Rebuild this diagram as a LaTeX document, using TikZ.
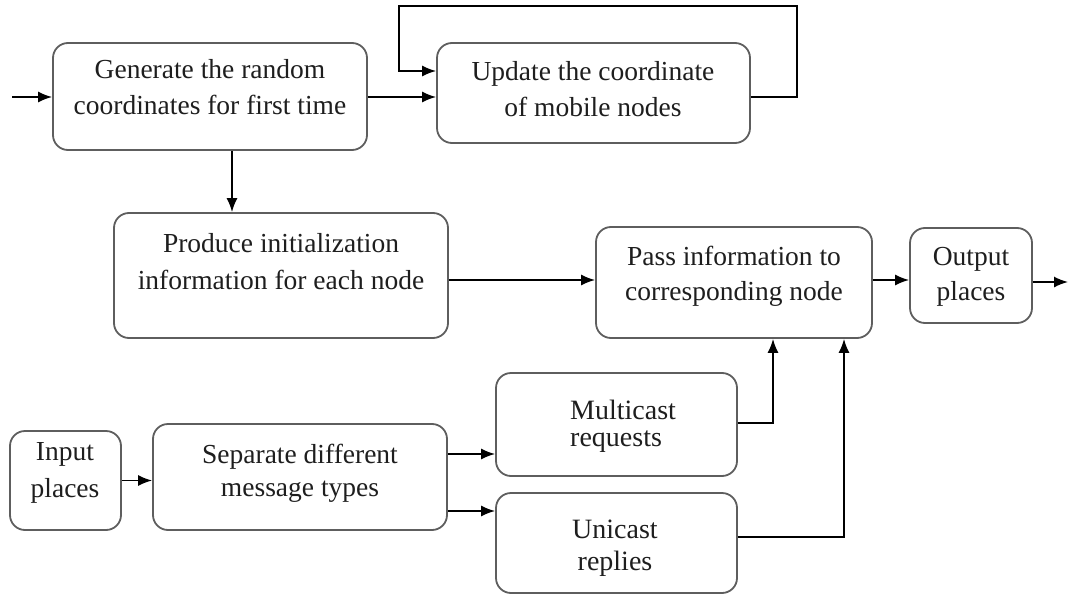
\documentclass[tikz,border=0pt]{standalone}
\usepackage{fontspec}
\setmainfont{Liberation Serif}
\usetikzlibrary{arrows.meta}
\definecolor{boxgray}{HTML}{5E5E5E}
\definecolor{ink}{HTML}{1E1E1E}
\tikzset{
  box/.style={draw=boxgray, line width=1.8pt, rounded corners=15pt, inner sep=0pt, fill=white},
  txt/.style={anchor=base, font=\fontsize{27.5}{36}\selectfont, text=ink, inner sep=0pt},
  tnr/.style={anchor=base, font=\fontsize{28}{34}\selectfont, text=ink, inner sep=0pt},
  wire/.style={draw=black, line width=1.6pt},
  flow/.style={wire, -{Latex[length=14pt,width=11pt]}}
}
\begin{document}
\begin{tikzpicture}[x=1pt, y=-1pt]
  \useasboundingbox[fill=white] (0,0) rectangle (1070,596);

  % boxes
  \node[box, minimum width=314pt, minimum height=107pt] (gen)  at (210,96.5)  {};
  \node[box, minimum width=313pt, minimum height=100pt] (upd)  at (593.5,93)  {};
  \node[box, minimum width=334pt, minimum height=125pt] (init) at (281,275.5) {};
  \node[box, minimum width=276pt, minimum height=111pt] (pass) at (734,282.5) {};
  \node[box, minimum width=122pt, minimum height=95pt]  (outp) at (971,275.5) {};
  \node[box, minimum width=111pt, minimum height=99pt]  (inp)  at (65.5,480.5) {};
  \node[box, minimum width=294pt, minimum height=106pt] (sep)  at (300,477)   {};
  \node[box, minimum width=241pt, minimum height=103pt] (mc)   at (616.5,424.5) {};
  \node[box, minimum width=241pt, minimum height=100pt] (uc)   at (616.5,543) {};

  % box texts
  \node[txt] (gen1)  at (210,79)  {Generate the random};
  \node[txt] (gen2)  at (210,115) {coordinates for first time};
  \node[txt] (upd1)  at (593,81)  {Update the coordinate};
  \node[txt] (upd2)  at (593,117) {of mobile nodes};
  \node[txt] (init1) at (281,252) {Produce initialization};
  \node[txt] (init2) at (281,289) {information for each node};
  \node[txt] (pass1) at (734,265) {Pass information to};
  \node[txt] (pass2) at (734,300) {corresponding node};
  \node[txt] (outp1) at (971,265) {Output};
  \node[txt] (outp2) at (971,300) {places};
  \node[txt] (inp1)  at (65,460)  {Input};
  \node[txt] (inp2)  at (65,497)  {places};
  \node[txt] (sep1)  at (300,463) {Separate different};
  \node[txt] (sep2)  at (300,496) {message types};
  \node[tnr, anchor=base west] (mc1) at (570,419) {Multicast};
  \node[tnr, anchor=base west] (mc2) at (570,446) {requests};
  \node[tnr] (uc1) at (615,538) {Unicast};
  \node[tnr] (uc2) at (615,570) {replies};

  % free ends and bends
  \coordinate (start) at (12,97);
  \coordinate (finish) at (1068,282);
  \coordinate (loopR) at (797,6);
  \coordinate (loopL) at (399,6);

  % connectors
  \draw[flow] (start) -- (start -| gen.west);
  \draw[flow] (gen.east |- start) -- (start -| upd.west);
  \draw[flow] ([yshift=-4pt]upd.east) -| (loopR) -- (loopL) |- ([yshift=22pt]upd.west);
  \draw[flow] ([xshift=22pt]gen.south) -- ([xshift=22pt]gen.south |- init.north);
  \draw[flow] ([yshift=-4.5pt]init.east) -- ([yshift=-4.5pt]init.east -| pass.west);
  \draw[flow] ([yshift=2.5pt]pass.east) -- ([yshift=2.5pt]pass.east -| outp.west);
  \draw[flow] (outp.east |- finish) -- (finish);
  \draw[flow] (inp.east) -- (inp.east -| sep.west);
  \draw[flow] ([yshift=23pt]sep.east) -- ([yshift=23pt]sep.east -| mc.west);
  \draw[flow] ([yshift=-34pt]sep.east) -- ([yshift=-34pt]sep.east -| uc.west);
  \draw[flow] ([yshift=1.5pt]mc.east) -| ([xshift=39pt]pass.south);
  \draw[flow] ([yshift=6pt]uc.east) -| ([xshift=110pt]pass.south);
\end{tikzpicture}
\end{document}
